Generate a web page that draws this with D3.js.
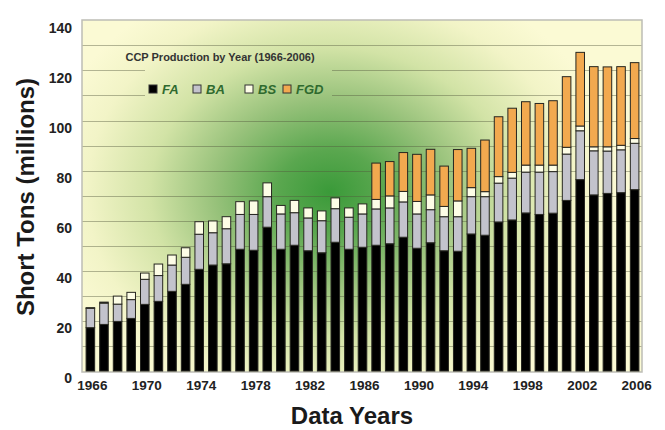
<!DOCTYPE html>
<html><head><meta charset="utf-8">
<script src="https://cdn.jsdelivr.net/npm/d3@7"></script>
<style>body{margin:0;background:#fff}svg{display:block}</style>
</head><body><svg id="c" width="665" height="430"></svg>
<script>
const years = [1966,1967,1968,1969,1970,1971,1972,1973,1974,1975,1976,1977,1978,1979,1980,1981,1982,1983,1984,1985,1986,1987,1988,1989,1990,1991,1992,1993,1994,1995,1996,1997,1998,1999,2000,2001,2002,2003,2004,2005,2006];
const FA  = [17.3,18.6,19.8,21.0,26.6,27.8,31.8,34.6,40.6,42.3,42.8,48.6,48.2,57.4,48.6,50.2,48.0,47.2,51.4,48.6,49.4,50.2,50.8,53.4,49.0,51.2,48.0,47.8,54.7,54.2,59.5,60.3,63.1,62.5,63.0,68.1,76.4,70.3,70.9,71.2,72.4];
const BA  = [7.7,8.5,6.9,7.5,10.0,10.3,10.5,10.8,14.0,12.9,14.0,13.9,14.3,12.2,14.1,13.0,13.1,12.8,13.4,12.8,13.3,14.5,14.3,14.1,13.7,13.2,13.6,13.8,14.9,15.4,15.5,16.7,16.3,16.9,16.6,18.5,19.5,17.6,16.9,17.1,18.5];
const BS  = [0.3,0.4,3.2,2.9,2.5,4.6,4.0,3.8,5.0,4.7,4.8,5.1,5.4,5.5,3.4,4.9,4.0,3.9,4.3,3.7,4.0,3.8,4.8,4.2,5.0,5.9,4.1,6.3,3.6,2.0,2.6,2.3,2.8,2.8,2.6,2.7,1.9,1.6,1.7,1.8,1.9];
const FGD = [0,0,0,0,0,0,0,0,0,0,0,0,0,0,0,0,0,0,0,0,0,14.5,13.7,15.5,18.8,18.2,16.1,20.5,15.7,20.6,23.9,25.6,25.3,24.6,25.7,28.2,29.4,32.0,31.9,31.4,30.3];
const seriesNames = ["FA","BA","BS","FGD"];
const seriesColors = ["#000000","#c3c3cc","#fdfde6","#f2a94f"];
const xTickLabels = [1966,1970,1974,1978,1982,1986,1990,1994,1998,2002,2006];
const yTickLabels = [0,20,40,60,80,100,120,140];
const gridValues = [10,20,30,40,50,60,70,80,90,100,110,120,130];
const chartTitle = "CCP Production by Year (1966-2006)";
const yTitle = "Short Tons (millions)";
const xTitle = "Data Years";

const table = years.map((y,i)=>({year:y, FA:FA[i], BA:BA[i], BS:BS[i], FGD:FGD[i]}));

const svg = d3.select("#c");
const P = {l:82, r:642, t:20, b:372};
const x = d3.scaleBand().domain(years).range([P.l, P.r+1]).paddingInner(0.37).paddingOuter(0.3);
const y = d3.scaleLinear().domain([0,140]).range([371, 20.3]);

const defs = svg.append("defs");
const g = defs.append("radialGradient").attr("id","bg").attr("gradientUnits","userSpaceOnUse")
  .attr("cx",330).attr("cy",192).attr("r",290)
  .attr("gradientTransform","translate(330,192) scale(1,0.8) translate(-330,-192)");
[[0,"#3a9a39"],[0.18,"#5aa74f"],[0.4,"#98c27b"],[0.62,"#d2e3a6"],[0.84,"#f2f4c7"],[1,"#fbfad4"]]
  .forEach(([o,c])=>g.append("stop").attr("offset",o).attr("stop-color",c));

svg.append("rect").attr("x",P.l).attr("y",P.t).attr("width",P.r-P.l).attr("height",P.b-P.t)
  .attr("fill","url(#bg)");

svg.append("g").selectAll("line").data(gridValues).join("line")
  .attr("x1",P.l).attr("x2",P.r).attr("y1",d=>Math.round(y(d))+0.5).attr("y2",d=>Math.round(y(d))+0.5)
  .attr("stroke","rgba(80,85,60,0.42)").attr("stroke-width",1);

// legend backdrop hiding gridlines
svg.append("rect").attr("x",145).attr("y",64).attr("width",187).attr("height",40).attr("fill","url(#bg)");

svg.append("rect").attr("x",P.l).attr("y",P.t).attr("width",P.r-P.l).attr("height",P.b-P.t)
  .attr("fill","none").attr("stroke","#bdbdb5").attr("stroke-width",1.5);

const stack = d3.stack().keys(seriesNames)(table);
const color = d3.scaleOrdinal().domain(seriesNames).range(seriesColors);
svg.append("g").selectAll("g").data(stack).join("g")
  .attr("fill",d=>color(d.key))
  .selectAll("rect").data(d=>d.filter(p=>p[1]-p[0]>0)).join("rect")
  .attr("x",d=>x(d.data.year)).attr("width",x.bandwidth())
  .attr("y",d=>y(d[1])).attr("height",d=>y(d[0])-y(d[1]))
  .attr("stroke","#262620").attr("stroke-width",1);

// axes
const yAxis = d3.axisLeft(y).tickValues(yTickLabels).tickSize(0).tickPadding(10);
const ya = svg.append("g").attr("transform",`translate(${P.l},0)`).call(yAxis);
ya.select(".domain").remove();
ya.selectAll("text").attr("dy","0.85em").attr("font-family","Liberation Sans, Arial, sans-serif")
  .attr("font-weight","bold").attr("font-size",14).attr("fill","#222");

const xAxis = d3.axisBottom(x).tickValues(xTickLabels).tickSize(0).tickPadding(8);
const xa = svg.append("g").attr("transform",`translate(2,${P.b})`).call(xAxis);
xa.select(".domain").remove();
xa.selectAll("text").attr("font-family","Liberation Sans, Arial, sans-serif")
  .attr("font-weight","bold").attr("font-size",13.5).attr("fill","#222");

svg.append("text").attr("transform","translate(34,197) rotate(-90)").attr("text-anchor","middle")
  .attr("font-family","Liberation Sans, Arial, sans-serif").attr("font-weight","bold").attr("font-size",24)
  .attr("fill","#1a1a1a").text(yTitle);
svg.append("text").attr("x",352).attr("y",424).attr("text-anchor","middle")
  .attr("font-family","Liberation Sans, Arial, sans-serif").attr("font-weight","bold").attr("font-size",24)
  .attr("fill","#1a1a1a").text(xTitle);

// legend
svg.append("text").attr("x",220).attr("y",61).attr("text-anchor","middle")
  .attr("font-family","Liberation Sans, Arial, sans-serif").attr("font-weight","bold").attr("font-size",11)
  .attr("fill","#333").text(chartTitle);
const legX = [149,193,245,283];
const leg = svg.append("g").selectAll("g").data(seriesNames).join("g")
  .attr("transform",(d,i)=>`translate(${legX[i]},85)`);
leg.append("rect").attr("width",8).attr("height",8).attr("fill",d=>color(d)).attr("stroke","#333").attr("stroke-width",1);
leg.append("text").attr("x",13).attr("y",8.5)
  .attr("font-family","Liberation Sans, Arial, sans-serif").attr("font-weight","bold").attr("font-style","italic")
  .attr("font-size",13).attr("fill","#2f6a2f").text(d=>d);
</script></body></html>
